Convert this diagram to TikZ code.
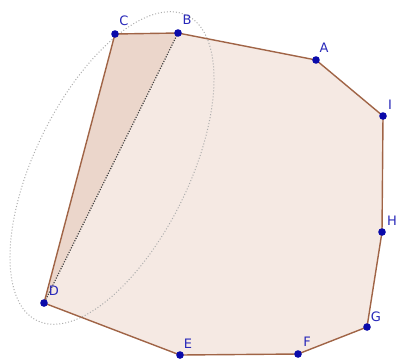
\documentclass[tikz,border=0pt]{standalone}
\usepackage{fontspec}
\setmainfont{DejaVu Sans}
\definecolor{polyfill}{RGB}{245,233,227}
\definecolor{trifill}{RGB}{235,214,203}
\definecolor{edgecol}{RGB}{160,100,70}
\definecolor{ptcol}{RGB}{10,10,170}
\definecolor{lblcol}{RGB}{40,40,185}
\tikzset{
  pt/.style={circle,inner sep=0pt,minimum size=7.6pt,fill=ptcol},
  lbl/.style={text=lblcol,font=\fontsize{13}{13}\selectfont,inner sep=0pt},
  edge/.style={draw=edgecol,line width=1.4pt,line join=round},
  ell/.style={draw=gray!65,line width=1pt,dash pattern=on 1pt off 2pt},
  diag/.style={draw=black!75,line width=1.2pt,dash pattern=on 1.1pt off 1.5pt}
}
\begin{document}
\begin{tikzpicture}[x=1pt,y=-1pt]
\useasboundingbox (0,0) rectangle (398,360);
\coordinate (A) at (316,60);
\coordinate (I) at (383,116);
\coordinate (H) at (382,232);
\coordinate (G) at (367,327);
\coordinate (F) at (298,354);
\coordinate (E) at (180,355);
\coordinate (D) at (44,303);
\coordinate (C) at (115,34);
\coordinate (B) at (178,33);
\fill[polyfill] (A) -- (I) -- (H) -- (G) -- (F) -- (E) -- (D) -- (C) -- (B) -- cycle;
\fill[trifill] (B) -- (C) -- (D) -- cycle;
\draw[ell,shift={(112,168)},rotate=63.8] (0,0) ellipse [x radius=170, y radius=77];
\draw[diag] (B) -- (D);
\draw[edge] (A) -- (I) -- (H) -- (G) -- (F) -- (E) -- (D) -- (C) -- (B) -- cycle;
\foreach \p in {A,I,H,G,F,E,D,C,B} {\node[pt] (n\p) at (\p) {};}
\node[lbl] (lA) at (324,48) {A};
\node[lbl] (lI) at (390,105) {I};
\node[lbl] (lH) at (392,221) {H};
\node[lbl] (lG) at (376,317) {G};
\node[lbl] (lF) at (307,342) {F};
\node[lbl] (lE) at (188,344) {E};
\node[lbl] (lD) at (54,291) {D};
\node[lbl] (lC) at (124,21) {C};
\node[lbl] (lB) at (187,20) {B};
\end{tikzpicture}
\end{document}
